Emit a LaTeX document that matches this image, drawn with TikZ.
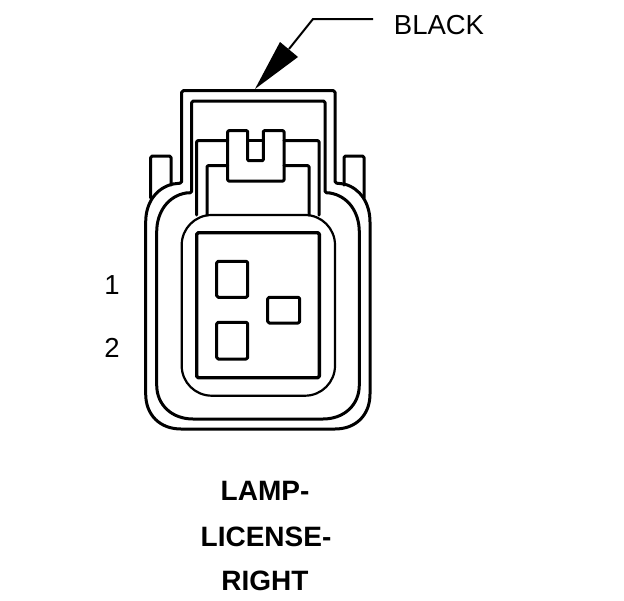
\documentclass[tikz,border=0pt]{standalone}
\usepackage{fontspec}
\setmainfont{Liberation Sans}
\tikzset{
  ln/.style={draw=black,line width=3pt,line join=round,line cap=round},
  thin ln/.style={draw=black,line width=2.2pt,line join=round,line cap=round},
  hole/.style={ln,rounded corners=1.5pt},
  lbl/.style={inner sep=0pt,font=\fontsize{27.5}{30}\selectfont},
  blbl/.style={inner sep=0pt,font=\fontsize{28}{30}\selectfont\bfseries}
}
\begin{document}
\begin{tikzpicture}[x=1pt,y=-1pt]
\useasboundingbox (0,0) rectangle (624,600);
% outer shell with hood
\draw[ln,rounded corners=1.5pt] (173,184) -- (181.7,183) -- (181.7,90.7) -- (335,90.7) -- (335,183) -- (344,184);
\draw[ln] (173,184) .. controls (156,188) and (145.7,203) .. (145.7,222) -- (145.7,394)
  .. controls (145.7,415) and (160,429) .. (181,429) -- (335,429)
  .. controls (356,429) and (370,415) .. (370,394) -- (370,222)
  .. controls (370,203) and (360,188) .. (344,184);
% inner shell with hood
\draw[ln,rounded corners=1.5pt] (186,193) -- (191.7,192.7) -- (191.7,101) -- (325,101) -- (325,192.7) -- (330,193);
\draw[ln] (186,193) .. controls (168,196) and (156.7,212) .. (156.7,232) -- (156.7,385)
  .. controls (156.7,405) and (172,419) .. (193,419) -- (323,419)
  .. controls (344,419) and (359.3,405) .. (359.3,385) -- (359.3,232)
  .. controls (359.3,212) and (348,196) .. (330,193);
% side tabs
\draw[ln,rounded corners=1.5pt] (150.7,198) -- (150.7,156) -- (171,156) -- (171,185);
\draw[ln,rounded corners=1.5pt] (344,185) -- (344,156) -- (364,156) -- (364,198);
% inner guides
\draw[ln,rounded corners=1pt] (196.7,215) -- (196.7,140.7) -- (227.7,140.7);
\draw[ln,rounded corners=1pt] (284,140.7) -- (319,140.7) -- (319,215);
\draw[ln,rounded corners=1pt] (207,215) -- (207,165.7) -- (227.7,165.7);
\draw[ln,rounded corners=1pt] (284,165.7) -- (309,165.7) -- (309,215);
\draw[ln] (247.7,140.7) -- (263.3,140.7);
% latch
\draw[ln,rounded corners=1pt] (227.7,130.7) -- (247.7,130.7) -- (247.7,160.7) -- (263.3,160.7) -- (263.3,130.7) -- (284,130.7) -- (284,181) -- (227.7,181) -- cycle;
% cavity
\draw[thin ln,rounded corners=30pt] (181.7,215) rectangle (335,395.7);
\draw[ln,line width=3.4pt,rounded corners=1.5pt] (196.7,232.7) rectangle (319.3,377.7);
% terminals
\draw[hole] (216.7,261.3) rectangle (247.7,297.3);
\draw[hole] (216.7,322.3) rectangle (247.7,359);
\draw[hole] (267.7,297.3) rectangle (299.7,323);
% labels
\node[lbl,anchor=center] (black) at (439,25) {BLACK};
\node[lbl,anchor=center] (one) at (112,285) {1};
\node[lbl,anchor=center] (two) at (112,348) {2};
\node[blbl,anchor=center] (lamp) at (265,491) {LAMP-};
\node[blbl,anchor=center] (license) at (266,537) {LICENSE-};
\node[blbl,anchor=center] (right) at (265,581) {RIGHT};
% leader
\coordinate (tip) at (255,89);
\coordinate (bendpt) at (313,19);
\coordinate (leadend) at (373,19);
\coordinate (stem) at (289,49);
\draw[draw=black,line width=2pt] (leadend) -- (bendpt) -- (stem);
\fill[black] (tip) -- (280,42) -- (298,57) -- cycle;
\end{tikzpicture}
\end{document}
